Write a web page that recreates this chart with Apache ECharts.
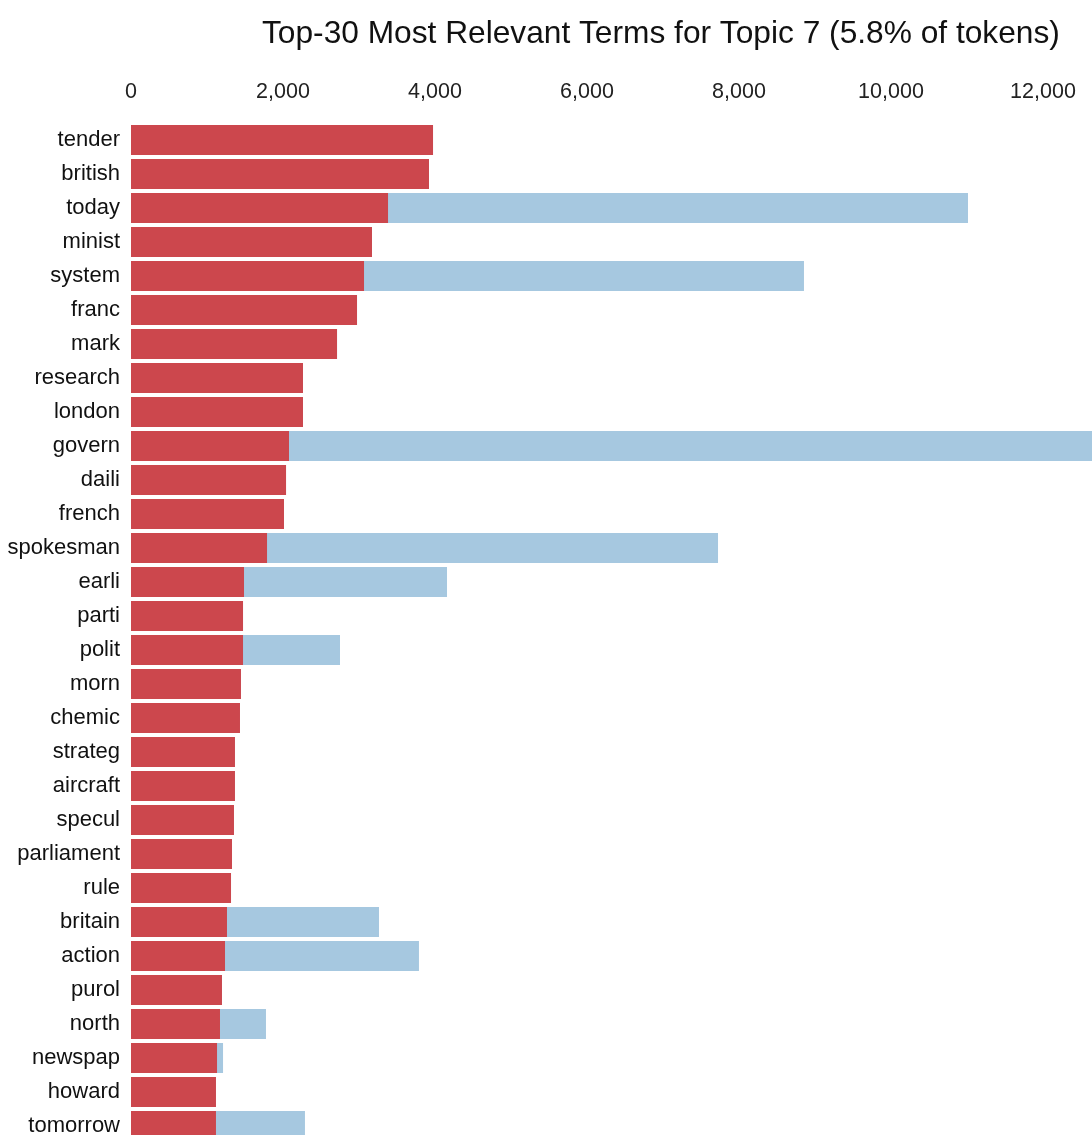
<!DOCTYPE html>
<html>
<head>
<meta charset="utf-8">
<script src="https://cdn.jsdelivr.net/npm/echarts@6/dist/echarts.min.js"></script>
<style>
  html, body { margin: 0; padding: 0; overflow: hidden; background: #fff; }
  #mainChart { width: 1400px; height: 1200px; }
</style>
</head>
<body>
<div id="mainChart"></div>
<script>
// terms, top to bottom
var terms = ['tender', 'british', 'today', 'minist', 'system', 'franc', 'mark', 'research', 'london', 'govern',
    'daili', 'french', 'spokesman', 'earli', 'parti', 'polit', 'morn', 'chemic', 'strateg', 'aircraft',
    'specul', 'parliament', 'rule', 'britain', 'action', 'purol', 'north', 'newspap', 'howard', 'tomorrow'];

// estimated term frequency within the topic (red)
var topicFreq = [3974, 3921, 3382, 3171, 3066, 2974, 2711, 2263, 2263, 2079,
    2040, 2013, 1790, 1487, 1474, 1474, 1447, 1434, 1368, 1368,
    1355, 1329, 1316, 1263, 1237, 1197, 1171, 1132, 1118, 1118];

// overall term frequency (blue)
var totalFreq = [3974, 3921, 11013, 3171, 8855, 2974, 2711, 2263, 2263, 15000,
    2040, 2013, 7724, 4158, 1474, 2750, 1447, 1434, 1368, 1368,
    1355, 1329, 1316, 3263, 3789, 1197, 1776, 1211, 1118, 2289];

var xTicks = { min: 0, max: 16000, interval: 2000 };

var myChart = echarts.init(document.getElementById('mainChart'));

var option = {
    animation: false,
    title: {
        text: 'Top-30 Most Relevant Terms for Topic 7 (5.8% of tokens)',
        left: 257,
        top: 13,
        textStyle: {
            fontFamily: 'Liberation Sans, Arial, sans-serif',
            fontSize: 31.7,
            fontWeight: 'normal',
            color: '#111'
        }
    },
    grid: {
        left: 131,
        top: 123,
        width: 1216,
        height: 1020
    },
    xAxis: {
        type: 'value',
        position: 'top',
        min: xTicks.min,
        max: xTicks.max,
        interval: xTicks.interval,
        axisLine: { show: false },
        axisTick: { show: false },
        splitLine: { show: false },
        axisLabel: {
            margin: 20,
            fontFamily: 'Liberation Sans, Arial, sans-serif',
            fontSize: 21.5,
            color: '#222'
        }
    },
    yAxis: {
        type: 'category',
        inverse: true,
        data: terms,
        axisLine: { show: false },
        axisTick: { show: false },
        axisLabel: {
            margin: 11,
            padding: [4, 0, 0, 0],
            fontFamily: 'Liberation Sans, Arial, sans-serif',
            fontSize: 22,
            color: '#111'
        }
    },
    series: [
        {
            name: 'Overall term frequency',
            type: 'bar',
            data: totalFreq,
            barWidth: 30,
            barGap: '-100%',
            itemStyle: { color: '#a6c8e0' }
        },
        {
            name: 'Estimated term frequency within the selected topic',
            type: 'bar',
            data: topicFreq,
            barWidth: 30,
            barGap: '-100%',
            itemStyle: { color: '#cc474d' }
        }
    ]
};

myChart.setOption(option);
</script>
</body>
</html>
